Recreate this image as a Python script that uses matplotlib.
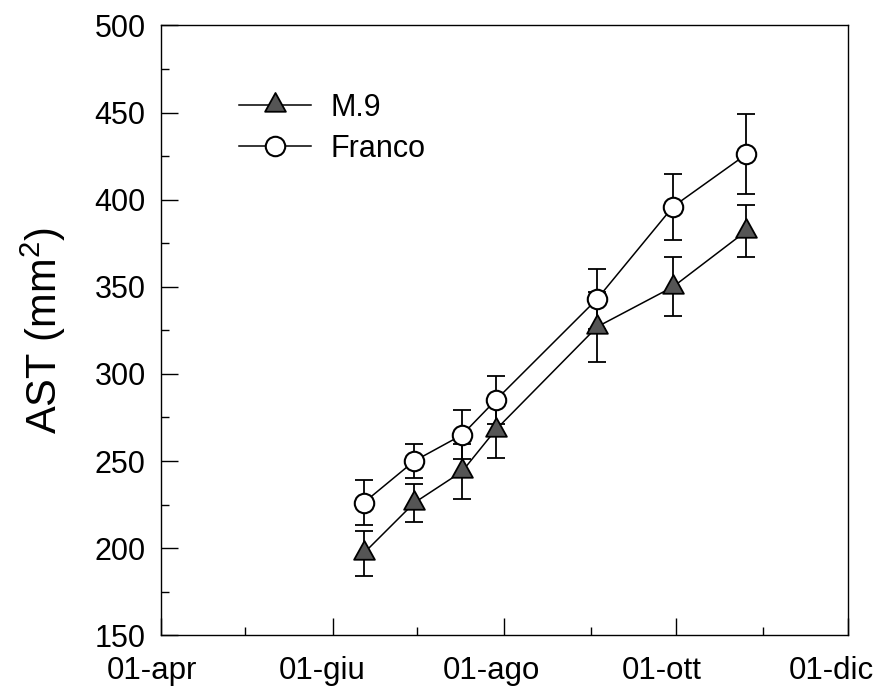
import matplotlib
matplotlib.use("Agg")
import matplotlib.pyplot as plt
from matplotlib.transforms import ScaledTranslation
from matplotlib.path import Path
from datetime import datetime

# ---- data ----
dates = ["2010-06-12", "2010-06-30", "2010-07-17", "2010-07-29",
         "2010-09-03", "2010-09-30", "2010-10-26"]
m9_values = [197, 226, 244, 268, 327, 350, 382]
m9_errors = [13, 11, 16, 16, 20, 17, 15]
franco_values = [226, 250, 265, 285, 343, 396, 426]
franco_errors = [13, 10, 14, 14, 17, 19, 23]
series_names = ["M.9", "Franco"]
xtick_dates = ["2010-04-01", "2010-06-01", "2010-08-01", "2010-10-01", "2010-12-01"]
xtick_labels = ["01-apr", "01-giu", "01-ago", "01-ott", "01-dic"]
xminor_dates = ["2010-05-01", "2010-07-01", "2010-09-01", "2010-11-01"]
yticks = [150, 200, 250, 300, 350, 400, 450, 500]
yminor = [175, 225, 275, 325, 375, 425, 475]
ylabel = "AST (mm$^2$)"

plt.rcParams['font.family'] = ['Liberation Sans', 'DejaVu Sans']
plt.rcParams['mathtext.fontset'] = 'custom'
plt.rcParams['mathtext.rm'] = 'Liberation Sans'

x = [datetime.strptime(d, "%Y-%m-%d") for d in dates]

fig = plt.figure(figsize=(8.77, 6.87), dpi=100)
ax = fig.add_axes([0.1836, 0.0753, 0.7828, 0.8877])

tri = Path([(0, 1), (-0.83, -0.5), (0.83, -0.5), (0, 1)],
           [Path.MOVETO, Path.LINETO, Path.LINETO, Path.CLOSEPOLY])

ax.errorbar(x, m9_values, yerr=m9_errors, fmt='none', ecolor='black',
            elinewidth=1.3, capsize=6.5, capthick=1.3, zorder=2)
ax.errorbar(x, franco_values, yerr=franco_errors, fmt='none', ecolor='black',
            elinewidth=1.3, capsize=6.5, capthick=1.3, zorder=2)
ax.plot(x, m9_values, color='black', lw=1.1, marker=tri, ms=18,
        mfc='#555555', mec='black', mew=1.3, label=series_names[0], zorder=3)
ax.plot(x, franco_values, color='black', lw=1.1, marker='o', ms=14,
        mfc='white', mec='black', mew=1.5, label=series_names[1], zorder=4)

ax.set_xlim(datetime(2010, 4, 1), datetime(2010, 12, 1))
ax.set_ylim(150, 500)
ax.set_xticks([datetime.strptime(d, "%Y-%m-%d") for d in xtick_dates])
ax.set_xticklabels(xtick_labels)
ax.set_xticks([datetime.strptime(d, "%Y-%m-%d") for d in xminor_dates], minor=True)
ax.set_yticks(yticks)
ax.set_yticks(yminor, minor=True)

ax.tick_params(axis='both', which='major', direction='in', length=12, width=1.0,
               top=False, right=False)
ax.tick_params(axis='both', which='minor', direction='in', length=6, width=1.0,
               top=False, right=False)
ax.tick_params(axis='x', which='major', pad=15, labelsize=22.5)
ax.tick_params(axis='y', which='major', pad=11, labelsize=22)
for s in ax.spines.values():
    s.set_linewidth(1.0)

label_shift_px = [-9, -11, -13, -14, -16]
for lab, dx in zip(ax.get_xticklabels(), label_shift_px):
    lab.set_transform(lab.get_transform() +
                      ScaledTranslation(dx / 100, 0, fig.dpi_scale_trans))

ax.set_ylabel(ylabel, fontsize=30)
ax.yaxis.set_label_coords(-0.135, 0.5)

leg = ax.legend(loc='upper left', bbox_to_anchor=(0.096, 0.91), frameon=False,
                fontsize=22, handlelength=2.35, handletextpad=0.65,
                labelspacing=0.37, borderaxespad=0)

fig.savefig("out.png", dpi=100)
